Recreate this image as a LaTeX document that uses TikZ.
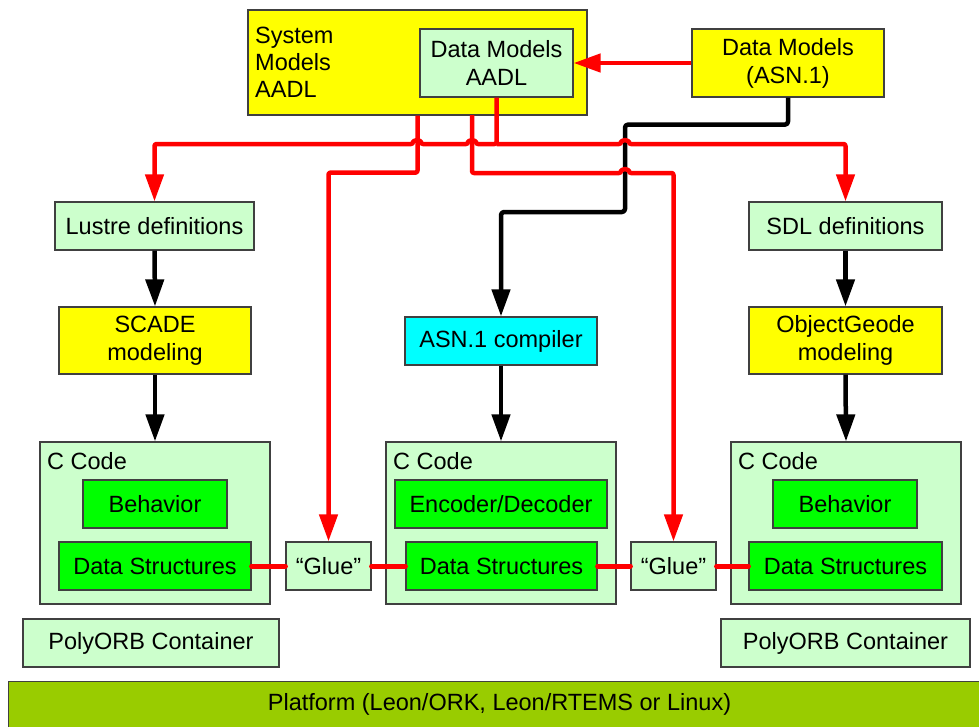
\documentclass[tikz,border=0pt]{standalone}
\usepackage{fontspec}
\setmainfont{Liberation Sans}
\usetikzlibrary{arrows.meta,calc}
\definecolor{ylw}{HTML}{FFFF00}
\definecolor{lgrn}{HTML}{CCFFCC}
\definecolor{grn}{HTML}{00FF00}
\definecolor{cyn}{HTML}{00FFFF}
\definecolor{platc}{HTML}{99CC00}
\definecolor{rd}{HTML}{FF0000}
\definecolor{bord}{HTML}{404040}
\begin{document}
\begin{tikzpicture}[x=1pt,y=-1pt,
  every node/.style={font=\fontsize{23.5}{28}\selectfont, inner sep=0pt},
  box/.style={draw=bord, line width=1.2pt, align=center},
  yel/.style={box, fill=ylw},
  lg/.style={box, fill=lgrn},
  gr/.style={box, fill=grn},
  cy/.style={box, fill=cyn},
  pl/.style={box, fill=platc},
  tip/.style={-{Triangle[length=27pt,width=18pt]}},
  redline/.style={draw=rd, line width=4.5pt, rounded corners=2pt, line join=round},
  blkline/.style={draw=black, line width=4.5pt, rounded corners=3pt, line join=round},
  link/.style={draw=rd, line width=5pt, line cap=round},
  lbl/.style={anchor=base west}
]
\useasboundingbox (0,0) rectangle (979,726);

% top boxes
\node[yel, minimum width=339pt, minimum height=105pt] (sys) at (417.5,62.5) {};
\node[anchor=west, align=left, font=\fontsize{23.5}{27}\selectfont] (systxt) at (255,62.5) {System\\Models\\AADL};
\node[lg, minimum width=153pt, minimum height=68pt] (dmaadl) at (496.5,63) {Data Models\\AADL};
\node[yel, minimum width=192pt, minimum height=68pt] (dmasn) at (788,63) {Data Models\\(ASN.1)};

% second row
\node[lg, minimum width=199pt, minimum height=48pt] (lustre) at (154.5,226) {Lustre definitions};
\node[lg, minimum width=193pt, minimum height=48pt] (sdl) at (845.5,226) {SDL definitions};

% third row
\node[yel, minimum width=192pt, minimum height=67pt] (scade) at (155,340.5) {SCADE\\modeling};
\node[cy, minimum width=192pt, minimum height=48pt] (asnc) at (501,341) {ASN.1 compiler};
\node[yel, minimum width=193pt, minimum height=67pt] (og) at (845.5,340.5) {ObjectGeode\\modeling};

% C code containers
\node[lg, minimum width=230pt, minimum height=162pt] (cc1) at (155,523) {};
\node[lg, minimum width=230pt, minimum height=162pt] (cc2) at (501,523) {};
\node[lg, minimum width=230pt, minimum height=162pt] (cc3) at (846,523) {};
\node[lbl] (cc1t) at (47,469) {C Code};
\node[lbl] (cc2t) at (393,469) {C Code};
\node[lbl] (cc3t) at (738,469) {C Code};

\node[gr, minimum width=144pt, minimum height=48pt] (beh1) at (155,504) {Behavior};
\node[gr, minimum width=212pt, minimum height=48pt] (ed) at (501,504) {Encoder/Decoder};
\node[gr, minimum width=144pt, minimum height=48pt] (beh3) at (845,504) {Behavior};

\node[gr, minimum width=192pt, minimum height=48pt] (ds1) at (155,566) {Data Structures};
\node[gr, minimum width=191pt, minimum height=48pt] (ds2) at (501.5,566) {Data Structures};
\node[gr, minimum width=193pt, minimum height=48pt] (ds3) at (845.5,566) {Data Structures};

\node[lg, minimum width=85pt, minimum height=48pt] (glue1) at (328.5,566) {``Glue''};
\node[lg, minimum width=85pt, minimum height=48pt] (glue2) at (673.5,566) {``Glue''};

\node[lg, minimum width=256pt, minimum height=48pt] (poly1) at (151,643) {PolyORB Container};
\node[lg, minimum width=249pt, minimum height=48pt] (poly3) at (845.5,643) {PolyORB Container};

\node[pl, minimum width=990pt, minimum height=60pt, anchor=north west] (plat) at (8,681) {};
\node (plattxt) at (499.5,704) {Platform (Leon/ORK, Leon/RTEMS or Linux)};

% black connectors
\draw[blkline, tip] (dmasn.south) -- ++(0,27) -| (625,212) -| (asnc.north);
\draw[blkline, tip] (lustre.south) -- (scade.north);
\draw[blkline, tip] (scade.south) -- (cc1.north);
\draw[blkline, tip] (sdl.south) -- (og.north);
\draw[blkline, tip] (og.south) -- (cc3.north);
\draw[blkline, tip] (asnc.south) -- (cc2.north);

% red connectors
\draw[redline, tip] (dmasn.west) -- (dmaadl.east);
\coordinate (jn) at (dmaadl.south |- 0,144);
\coordinate (s2) at (472,115);
\draw[redline, tip] (dmaadl.south) -- (jn) -- (476,144)
  arc[start angle=0, end angle=180, radius=4pt] -- (421,144)
  arc[start angle=0, end angle=180, radius=4pt] -| (lustre.north);
\draw[redline, tip] (jn) -- (621,144)
  arc[start angle=180, end angle=0, radius=4pt] -| (sdl.north);
\draw[redline, tip] (sys.south) -- ++(0,57) -| (glue1.north);
\draw[redline, tip] (s2) -- ++(0,58) -- (621,173)
  arc[start angle=180, end angle=0, radius=4pt] -| (glue2.north);

\draw[link] (ds1.east) -- (glue1.west);
\draw[link] (glue1.east) -- (ds2.west);
\draw[link] (ds2.east) -- (glue2.west);
\draw[link] (glue2.east) -- (ds3.west);
\end{tikzpicture}
\end{document}
